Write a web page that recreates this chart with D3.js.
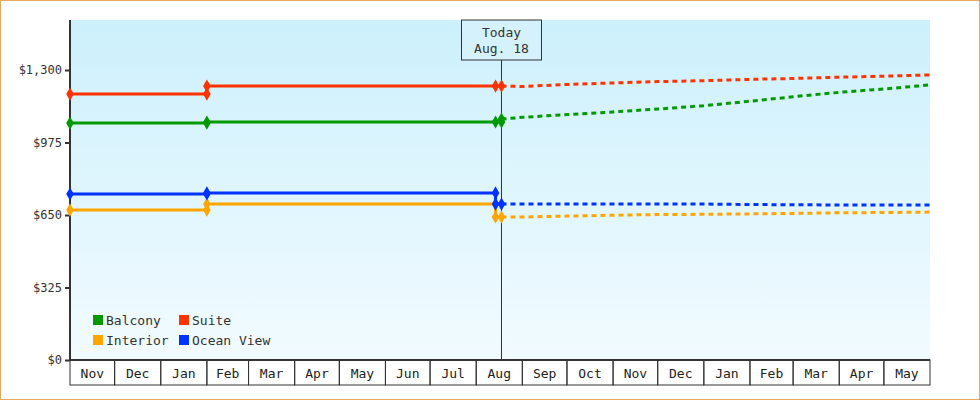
<!DOCTYPE html>
<html><head><meta charset="utf-8">
<script src="https://cdn.jsdelivr.net/npm/d3@7"></script>
<style>body{margin:0}svg{display:block;font-family:"DejaVu Sans Mono",monospace}</style>
</head><body>
<svg id="chart" width="980" height="400"></svg>
<script>
const seriesNames = ["Balcony", "Suite", "Interior", "Ocean View"],
  colors = ["#009900", "#ff3300", "#ffa500", "#0033ff"],
  histDates = ["2022-11-01", "2023-02-01", "2023-08-14", "2023-08-18"],
  histValues = [
    [1062, 1067, 1067, 1080],
    [1192, 1228, 1228, 1228],
    [672, 699, 641, 641],
    [744, 749, 699, 699]
  ],
  foreDates = ["2023-08-18", "2023-09-01", "2023-10-01", "2023-11-01", "2023-12-01", "2024-01-01",
    "2024-02-01", "2024-03-01", "2024-04-01", "2024-05-01", "2024-06-01"],
  foreValues = [
    [1080, 1088, 1100, 1112, 1125, 1140, 1160, 1180, 1200, 1215, 1233],
    [1228, 1226, 1235, 1242, 1248, 1252, 1258, 1262, 1268, 1272, 1278],
    [641, 641, 645, 649, 652, 653, 655, 657, 660, 661, 663],
    [699, 699, 699, 699, 699, 699, 697, 696, 695, 695, 695]
  ],
  yTicks = [0, 325, 650, 975, 1300],
  todayLabel = ["Today", "Aug. 18"];

const svg = d3.select("#chart"),
  parse = d3.timeParse("%Y-%m-%d"),
  mLeft = 70, mRight = 930, mTop = 20, mBottom = 360;

const x = d3.scaleTime().domain([parse("2022-11-01"), parse("2024-06-01")]).range([mLeft, mRight]);
const y = d3.scaleLinear().domain([0, 1300]).range([mBottom, 70]);

svg.append("rect").attr("x", 0.5).attr("y", 0.5).attr("width", 979).attr("height", 399)
  .attr("fill", "#fff").attr("stroke", "#e8a860");

const grad = svg.append("defs").append("linearGradient").attr("id", "bg")
  .attr("x1", 0).attr("y1", 0).attr("x2", 0).attr("y2", 1);
grad.append("stop").attr("offset", 0).attr("stop-color", "#ccf0fc");
grad.append("stop").attr("offset", 1).attr("stop-color", "#f2fbff");
svg.append("rect").attr("x", mLeft).attr("y", mTop).attr("width", mRight - mLeft).attr("height", mBottom - mTop)
  .attr("fill", "url(#bg)");

// y axis
const yAxis = svg.append("g").attr("transform", `translate(${mLeft},0)`)
  .call(d3.axisLeft(y).tickValues(yTicks).tickSize(5).tickFormat(d => "$" + d3.format(",")(d)));
yAxis.select(".domain").remove();
yAxis.selectAll("text").attr("font-size", 12).attr("fill", "#333").attr("font-family", "DejaVu Sans Mono");
yAxis.selectAll("line").attr("stroke", "#333").attr("stroke-width", 2);
svg.append("line").attr("x1", mLeft).attr("x2", mLeft).attr("y1", mTop).attr("y2", mBottom)
  .attr("stroke", "#333").attr("stroke-width", 2);

// x axis month cells
const months = d3.timeMonth.range(x.domain()[0], x.domain()[1]);
const cells = svg.append("g");
months.forEach(m => {
  const x0 = x(m), x1 = x(d3.timeMonth.offset(m, 1));
  cells.append("rect").attr("x", x0).attr("y", mBottom).attr("width", x1 - x0).attr("height", 25)
    .attr("fill", "none").attr("stroke", "#333");
  cells.append("text").attr("x", (x0 + x1) / 2).attr("y", mBottom + 18).attr("text-anchor", "middle")
    .attr("font-size", 13).attr("fill", "#222").text(d3.timeFormat("%b")(m));
});
svg.append("line").attr("x1", mLeft).attr("x2", mRight).attr("y1", mBottom).attr("y2", mBottom)
  .attr("stroke", "#333").attr("stroke-width", 2);

// today marker
const tx = x(parse("2023-08-18"));
svg.append("line").attr("x1", tx).attr("x2", tx).attr("y1", 60).attr("y2", mBottom).attr("stroke", "#333");
svg.append("rect").attr("x", tx - 40).attr("y", 20).attr("width", 80).attr("height", 40)
  .attr("fill", "#d5f2fc").attr("stroke", "#333");
todayLabel.forEach((t, i) => svg.append("text").attr("x", tx).attr("y", 37 + i * 16)
  .attr("text-anchor", "middle").attr("font-size", 13).attr("fill", "#333").text(t));

// history (step after) + forecast (dotted)
const line = d3.line().x(d => x(d[0])).y(d => y(d[1]));
seriesNames.forEach((s, i) => {
  const hd = histDates.map(parse), hv = histValues[i];
  const pts = [];
  hd.forEach((d, j) => {
    if (j > 0) pts.push([d, hv[j - 1]]);
    pts.push([d, hv[j]]);
  });
  svg.append("path").attr("d", line(pts)).attr("fill", "none").attr("stroke", colors[i]).attr("stroke-width", 3);
  const fpts = foreDates.map((d, j) => [parse(d), foreValues[i][j]]);
  svg.append("path").attr("d", line(fpts)).attr("fill", "none").attr("stroke", colors[i])
    .attr("stroke-width", 3).attr("stroke-dasharray", "5,4");
  const marks = [];
  hd.forEach((d, j) => {
    if (j > 0 && hv[j] !== hv[j - 1]) marks.push([d, hv[j - 1]]);
    marks.push([d, hv[j]]);
  });
  svg.append("g").selectAll("path").data(marks).join("path")
    .attr("transform", d => `translate(${x(d[0])},${y(d[1])})`)
    .attr("d", d3.symbol(d3.symbolDiamond, 50)).attr("fill", colors[i]);
});

// legend
const legend = svg.append("g");
seriesNames.forEach((s, i) => {
  const lx = 93 + (i % 2) * 86, ly = 315 + Math.floor(i / 2) * 20;
  legend.append("rect").attr("x", lx).attr("y", ly).attr("width", 10).attr("height", 10).attr("fill", colors[i]);
  legend.append("text").attr("x", lx + 13).attr("y", ly + 10).attr("font-size", 13).attr("fill", "#333").text(s);
});
</script>
</body></html>
